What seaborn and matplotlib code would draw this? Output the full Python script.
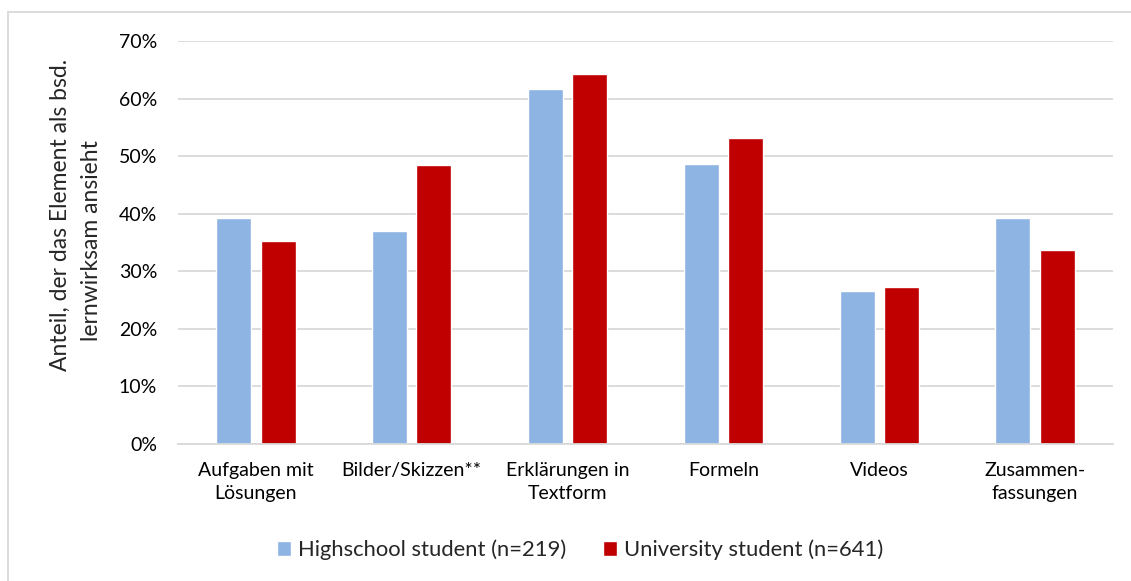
import numpy as np
import pandas as pd
import matplotlib.pyplot as plt
import seaborn as sns
from matplotlib.lines import Line2D
from matplotlib.ticker import FuncFormatter

# data (percent)
categories = ['Aufgaben mit\nLösungen', 'Bilder/Skizzen**', 'Erklärungen in\nTextform',
              'Formeln', 'Videos', 'Zusammen-\nfassungen']
highschool = [39.2, 37.0, 61.6, 48.7, 26.5, 39.2]
university = [35.2, 48.4, 64.2, 53.1, 27.3, 33.7]
groups = ['Highschool student (n=219)', 'University student (n=641)']
colors = ['#8eb4e3', '#c00000']

df = pd.DataFrame({
    'Element': categories * 2,
    'Anteil': highschool + university,
    'Gruppe': [groups[0]] * len(categories) + [groups[1]] * len(categories),
})

sns.set_theme(style='white')
plt.rcParams['font.family'] = ['Lato', 'DejaVu Sans']

W, H = 1131, 581
fig = plt.figure(figsize=(W / 100, H / 100), dpi=100)
ax = fig.add_axes([178 / W, 1 - 444 / H, (1113 - 178) / W, (444 - 41) / H])

sns.barplot(data=df, x='Element', y='Anteil', hue='Gruppe', palette=colors,
            width=0.57, gap=0.21, ax=ax, saturation=1, legend=True)

ax.set_ylim(0, 70)
ax.set_xlim(-0.5, len(categories) - 0.5)
ax.set_yticks(np.arange(0, 71, 10))
ax.yaxis.set_major_formatter(FuncFormatter(lambda v, p: f'{v:.0f}%'))
ax.grid(axis='y', color='#d9d9d9', linewidth=1.3)
ax.set_axisbelow(True)
for side in ['top', 'right', 'left']:
    ax.spines[side].set_visible(False)
ax.spines['bottom'].set_color('#d9d9d9')
ax.spines['bottom'].set_linewidth(1.3)
ax.tick_params(axis='y', labelsize=14, colors='#000000', length=0, pad=15)
ax.tick_params(axis='x', labelsize=14, colors='#000000', length=0, pad=13)
ax.set_xticks(range(len(categories)))
ax.set_xticklabels(categories, linespacing=1.4)
ax.set_xlabel('')
ax.set_ylabel('')

# two-line y label, positioned like the original
fig.text(60 / W, 1 - 215 / H, 'Anteil, der das Element als bsd.', rotation=90,
         ha='center', va='center', fontsize=16.5)
fig.text(91 / W, 1 - 241 / H, 'lernwirksam ansieht', rotation=90,
         ha='center', va='center', fontsize=16.5)

ax.get_legend().remove()
handles, labels = ax.get_legend_handles_labels()
fig.legend(handles, labels, loc='center', bbox_to_anchor=(580 / W, 1 - 550 / H),
           bbox_transform=fig.transFigure, ncol=2, frameon=False, fontsize=15.8,
           handlelength=0.64, handleheight=0.64, handletextpad=0.3, columnspacing=1.7)

# light chart border (top and left, like the Excel chart frame)
fig.add_artist(Line2D([8 / W, 1.0], [1 - 12 / H] * 2, color='#d9d9d9', lw=1.3,
                      transform=fig.transFigure))
fig.add_artist(Line2D([8 / W] * 2, [0.0, 1 - 12 / H], color='#d9d9d9', lw=1.3,
                      transform=fig.transFigure))

fig.savefig('out.png', dpi=100)
